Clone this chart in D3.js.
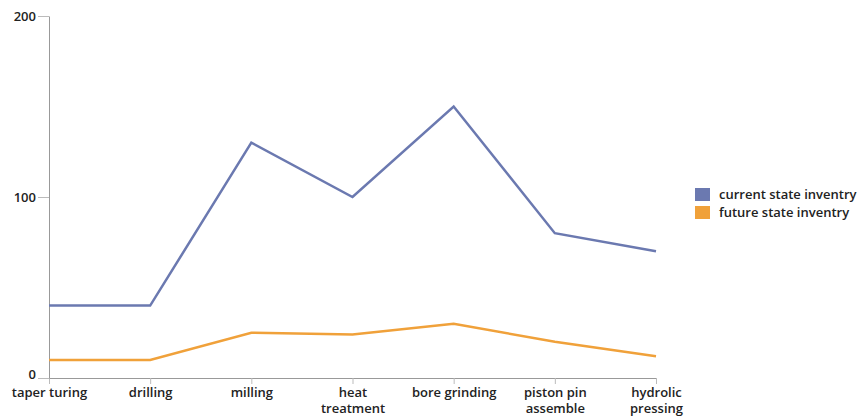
<!DOCTYPE html>
<html><head><meta charset="utf-8">
<script src="https://cdn.jsdelivr.net/npm/d3@7"></script>
<style>body{margin:0;background:#fff;font-family:"Open Sans","DejaVu Sans",sans-serif;}</style>
</head><body><svg id="c" width="857" height="418"></svg>
<script>
const categories = ["taper turing","drilling","milling","heat treatment","bore grinding","piston pin assemble","hydrolic pressing"];
const categoryLines = [["taper turing"],["drilling"],["milling"],["heat","treatment"],["bore grinding"],["piston pin","assemble"],["hydrolic","pressing"]];
const currentState = [40,40,130,100,150,80,70];
const futureState = [10,10,25,24,30,20,12];
const seriesNames = ["current state inventry","future state inventry"];
const seriesColors = ["#6b79b0","#f0a13a"];
const yTicks = [0,100,200];

const svg = d3.select("#c");
const x = d3.scalePoint().domain(categories).range([49,656]);
const y = d3.scaleLinear().domain([0,200]).range([378,16]);
const fontCss = "font-size:13px;font-weight:600;font-family:'Open Sans',sans-serif";

const xAxis = svg.append("g").attr("transform","translate(0,378)")
  .call(d3.axisBottom(x).tickSize(6).tickSizeOuter(0));
const yAxis = svg.append("g").attr("transform","translate(49,0)")
  .call(d3.axisLeft(y).tickValues(yTicks).tickSize(11).tickPadding(2).tickSizeOuter(0));
[xAxis,yAxis].forEach(g=>{
  g.select(".domain").attr("stroke","#999");
  g.selectAll(".tick line").attr("stroke","#bbb");
  g.selectAll("text").attr("fill","#222").attr("style",fontCss);
});
yAxis.selectAll(".tick text").filter(d=>d===0).attr("dy","0.05em");
xAxis.selectAll(".tick text").each(function(d,i){
  const t = d3.select(this);
  t.text(null).attr("y",10);
  categoryLines[i].forEach((l,j)=>t.append("tspan").attr("x",0).attr("dy",j===0?"0.71em":"1.25em").text(l));
});

const line = d3.line().x((d,i)=>x(categories[i])).y(d=>y(d));
[currentState,futureState].forEach((s,k)=>{
  svg.append("path").datum(s).attr("d",line).attr("fill","none")
    .attr("stroke",seriesColors[k]).attr("stroke-width",2.5);
});

const leg = svg.append("g").attr("transform","translate(695,188)");
seriesNames.forEach((n,i)=>{
  leg.append("rect").attr("x",0).attr("y",i*18).attr("width",15).attr("height",13).attr("fill",seriesColors[i]);
  leg.append("text").attr("x",24).attr("y",i*18+10.5).text(n)
    .attr("fill","#222").attr("style",fontCss);
});
</script></body></html>
